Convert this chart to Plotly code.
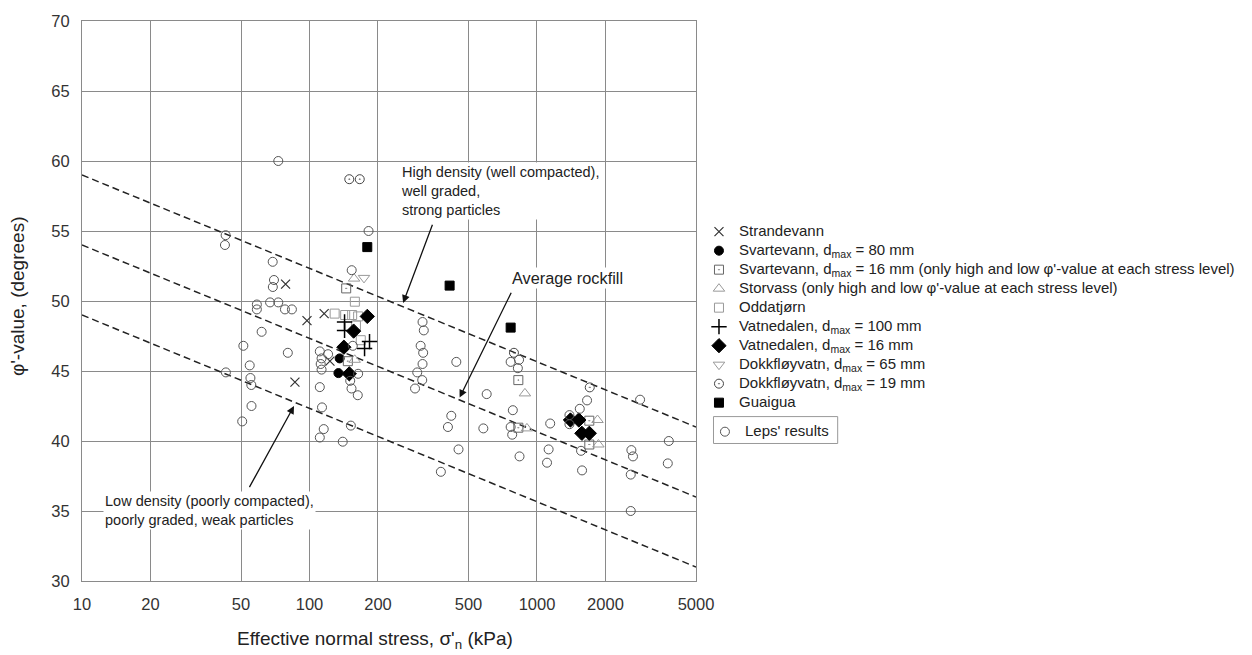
import plotly.graph_objects as go
import math

# ---------------- data ----------------
x_ticks = [10, 20, 50, 100, 200, 500, 1000, 2000, 5000]
y_ticks = [30, 35, 40, 45, 50, 55, 60, 65, 70]

leps_x = [42.8, 42.5, 68.9, 69.8, 69, 58.7, 58.7, 67.1, 72.9, 78, 83.7, 61.6, 51.2, 80.3, 54.6,
          42.9, 55, 55.5, 55.6, 50.6, 72.9,
          111, 120.7, 113, 112, 113, 111, 113.5, 115.5, 111,
          181.8, 153.3, 155, 163.6, 151, 153, 163, 152, 140,
          314, 318, 308, 316, 314, 297.6, 313, 291, 442, 420, 406, 452, 378,
          601, 581, 766, 834, 824, 783, 766, 778, 838, 1143, 1125, 1107,
          1660, 1542, 1389, 1389, 1562, 1578,
          2839, 2600, 2642, 2583, 2583, 3797, 3758]
leps_y = [54.7, 54.0, 52.8, 51.5, 51.0, 49.75, 49.4, 49.9, 49.9, 49.4, 49.4, 47.8, 46.8, 46.3, 45.4,
          44.9, 44.5, 44.0, 42.5, 41.4, 60.0,
          46.4, 46.2, 45.9, 45.5, 45.1, 43.85, 42.4, 40.85, 40.25,
          55.0, 52.2, 46.8, 44.8, 44.3, 43.75, 43.27, 41.1, 39.95,
          48.5, 47.9, 46.8, 46.3, 45.5, 44.9, 44.35, 43.75, 45.65, 41.8, 41.0, 39.4, 37.8,
          43.35, 40.9, 45.65, 45.8, 45.2, 42.2, 41.0, 40.45, 38.9, 41.25, 39.4, 38.45,
          42.9, 42.3, 41.85, 41.2, 39.3, 37.9,
          42.95, 39.35, 38.9, 37.6, 35.0, 40.0, 38.4]

strandevann_x = [78.5, 97.5, 116, 123, 86.3]
strandevann_y = [51.2, 48.6, 49.1, 45.7, 44.2]

svartevann80_x = [135.7, 134]
svartevann80_y = [45.9, 44.85]

svartevann16_x = [145, 147.4, 828, 828, 1698, 1698]
svartevann16_y = [50.9, 45.7, 44.35, 40.95, 41.45, 39.75]

storvass_x = [157, 158, 885, 903, 1845, 1862]
storvass_y = [51.6, 45.8, 43.4, 40.9, 41.5, 39.75]

oddatjorn_x = [158.3, 129, 143.5, 154, 163.6, 160, 168]
oddatjorn_y = [49.95, 49.1, 49.0, 49.0, 48.9, 48.25, 47.2]

vatnedalen100_x = [142.6, 142.6, 183.6, 174.6]
vatnedalen100_y = [48.5, 47.9, 47.1, 46.6]

vatnedalen16_x = [179.5, 156.3, 141.6, 149.6, 1403, 1527, 1575, 1698]
vatnedalen16_y = [48.9, 47.85, 46.7, 44.8, 41.5, 41.5, 40.55, 40.55]

dokk65_x = [173.6]
dokk65_y = [51.65]

dokk19_x = [149.6, 166.3, 792, 1706]
dokk19_y = [58.7, 58.7, 46.3, 43.83]

guaigua_x = [179.5, 413, 766]
guaigua_y = [53.85, 51.1, 48.1]

# envelope lines (phi at sigma = 10 and 5000 kPa)
line_x = [10, 5000]
high_density_y = [59.0, 41.0]
average_y = [54.0, 36.0]
low_density_y = [49.0, 31.0]

FONT = "Liberation Sans, Arial, sans-serif"

fig = go.Figure()

for ys in (high_density_y, average_y, low_density_y):
    fig.add_trace(go.Scatter(x=line_x, y=ys, mode="lines",
                             line=dict(color="#222", width=1.5, dash="7px,4px"),
                             showlegend=False, hoverinfo="skip"))

def lab(s):
    return "<span style='font-size:15px'>" + s + "</span>"

def add(name, xs, ys, symbol, color, size, lw=1, legend="legend"):
    fig.add_trace(go.Scatter(x=xs, y=ys, mode="markers", name=lab(name), legend=legend,
                             marker=dict(symbol=symbol, size=size, color=color,
                                         line=dict(color=color, width=lw))))

add("Strandevann", strandevann_x, strandevann_y, "x-thin-open", "#333", 9, 1.2)
add("Svartevann, d<sub>max</sub> = 80 mm", svartevann80_x, svartevann80_y, "circle", "#000", 9)
add("Svartevann, d<sub>max</sub> = 16 mm (only high and low φ'-value at each stress level)",
    svartevann16_x, svartevann16_y, "square-open-dot", "#666", 9)
add("Storvass (only high and low φ'-value at each stress level)", storvass_x, storvass_y,
    "triangle-up-open", "#999", 10)
add("Oddatjørn", oddatjorn_x, oddatjorn_y, "square-open", "#999", 9)
add("Vatnedalen, d<sub>max</sub> = 100 mm", vatnedalen100_x, vatnedalen100_y, "cross-thin-open", "#000", 11, 1.5)
add("Vatnedalen, d<sub>max</sub> = 16 mm", vatnedalen16_x, vatnedalen16_y, "diamond", "#000", 11)
add("Dokkfløyvatn, d<sub>max</sub> = 65 mm", dokk65_x, dokk65_y, "triangle-down-open", "#999", 10)
add("Dokkfløyvatn, d<sub>max</sub> = 19 mm", dokk19_x, dokk19_y, "circle-open-dot", "#444", 9)
add("Guaigua", guaigua_x, guaigua_y, "square", "#000", 9)
add("Leps' results", leps_x, leps_y, "circle-open", "#555", 9, 1, legend="legend2")

L = math.log10
arrow = dict(showarrow=True, arrowhead=2, arrowsize=1.2, arrowwidth=1.3, arrowcolor="#111",
             xref="x", yref="y", axref="x", ayref="y", text="")
annos = [
    dict(arrow, x=L(258), y=49.86, ax=L(349), ay=55.55),
    dict(arrow, x=L(457), y=43.1, ax=L(776), ay=50.7),
    dict(arrow, x=L(85.5), y=42.5, ax=L(54), ay=36.6),
]
txt = dict(showarrow=False, xref="x", yref="y", xanchor="left", yanchor="middle", align="left",
           bgcolor="white", font=dict(family=FONT, size=14.5, color="#222"))
annos += [
    dict(txt, x=L(247.6), y=57.86, text="High density (well compacted),<br>well graded,<br>strong particles"),
    dict(txt, x=L(761), y=51.64, text="Average rockfill", font=dict(family=FONT, size=16.3, color="#222")),
    dict(txt, x=L(12.35), y=35.05, text="Low density (poorly compacted),<br>poorly graded, weak particles"),
    dict(showarrow=False, xref="paper", yref="paper", x=(377 - 82) / 618, y=-0.105,
         xanchor="center", yanchor="middle",
         text="Effective normal stress, σ'<sub>n</sub> (kPa)", font=dict(family=FONT, size=19, color="#222")),
    dict(showarrow=False, xref="paper", yref="paper", x=-0.104, y=0.509, xanchor="center", yanchor="middle",
         textangle=-90, text="φ'-value, (degrees)", font=dict(family=FONT, size=19, color="#222")),
]

fig.update_layout(
    width=1252, height=655,
    margin=dict(l=82, r=552, t=19, b=74),
    paper_bgcolor="white", plot_bgcolor="white",
    font=dict(family=FONT, size=14, color="#222"),
    annotations=annos,
    shapes=[dict(type="rect", xref="paper", yref="paper",
                 x0=(717.6 - 82) / 618, x1=(842.6 - 82) / 618,
                 y0=(581 - 443) / 562, y1=(581 - 416) / 562,
                 line=dict(color="#999", width=1), fillcolor="rgba(0,0,0,0)")],
    legend=dict(x=(703 - 82) / 618, y=0.6497, xanchor="left", yanchor="top", tracegroupgap=0, itemwidth=30,
                font=dict(family=FONT, size=11.3, color="#222"), bgcolor="rgba(0,0,0,0)"),
    legend2=dict(x=(709 - 82) / 618, y=0.2925, xanchor="left", yanchor="top", itemwidth=30,
                 font=dict(family=FONT, size=11.3, color="#222"), bgcolor="rgba(0,0,0,0)"),
)

fig.update_xaxes(type="log", range=[1, L(5000)], tickvals=x_ticks, ticktext=[str(v) for v in x_ticks],
                 showgrid=True, gridcolor="#8a8a8a", gridwidth=1,
                 showline=True, linecolor="#8a8a8a", linewidth=1, mirror=True,
                 ticks="outside", ticklen=8, tickcolor="rgba(0,0,0,0)",
                 tickfont=dict(family=FONT, size=16.5, color="#333"), zeroline=False)
fig.update_yaxes(range=[30, 70], tickvals=y_ticks,
                 showgrid=True, gridcolor="#8a8a8a", gridwidth=1,
                 showline=True, linecolor="#8a8a8a", linewidth=1, mirror=True,
                 ticks="outside", ticklen=8, tickcolor="rgba(0,0,0,0)",
                 tickfont=dict(family=FONT, size=16.5, color="#333"), zeroline=False)

fig.write_html("out.html")
